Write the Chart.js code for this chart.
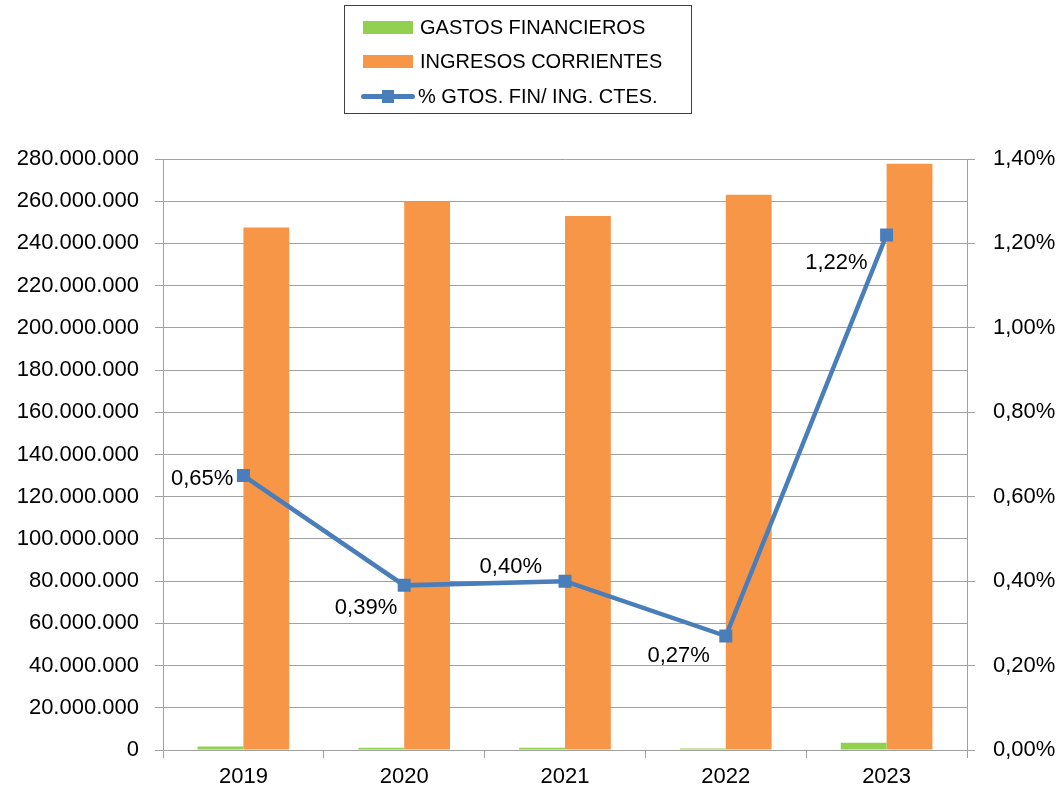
<!DOCTYPE html>
<html>
<head>
<meta charset="utf-8">
<script src="https://cdn.jsdelivr.net/npm/chart.js@4.4.1/dist/chart.umd.min.js"></script>
<style>
  html, body { margin: 0; padding: 0; background: #fff; }
  #wrap { position: relative; width: 1063px; height: 796px; }
  #legend {
    position: absolute; left: 344px; top: 5px; width: 348px; height: 109px;
    border: 1px solid #404040; box-sizing: border-box;
    font-family: "Liberation Sans", Arial, sans-serif; font-size: 20px; color: #000;
  }
  .item { position: absolute; left: 18px; height: 24px; display: flex; align-items: center; }
  .swatch { width: 50px; height: 13px; margin-right: 7px; }
  .linesw { position: relative; width: 54px; height: 13px; margin-right: 3px; }
  .linesw .ln { position: absolute; left: 0; right: 0; top: 4px; height: 5px; border-radius: 3px; }
  .linesw .mk { position: absolute; left: 21px; top: 0; width: 12px; height: 13px; }
</style>
</head>
<body>
<div id="wrap">
  <canvas id="chart" width="1063" height="796"></canvas>
  <div id="legend"></div>
</div>
<script>
// ── Data ──────────────────────────────────────────────────────────────────────
const years      = ["2019", "2020", "2021", "2022", "2023"];
const gastosFin  = [1610000, 1010000, 1010000, 710000, 3390000];
const ingresos   = [247600000, 259700000, 253000000, 263100000, 277800000];
const pctGastos  = [0.65, 0.39, 0.40, 0.27, 1.22];

const seriesNames = ["GASTOS FINANCIEROS", "INGRESOS CORRIENTES", "% GTOS. FIN/ ING. CTES."];

// ── Styles ────────────────────────────────────────────────────────────────────
const GREEN  = "#92d050";
const ORANGE = "#f79646";
const BLUE   = "#4a7ebb";
const GRID   = "#a0a0a0";
const FONT   = { family: "'Liberation Sans', Arial, sans-serif", size: 22 };

// label offsets for the % points: [dx of right edge, dy of middle]
const labelOffsets = [[-10, 3], [-7, 23], [-23, -14], [-16, 20], [-19, 28]];

function thousands(v) {
  return Math.round(v).toString().replace(/\B(?=(\d{3})+(?!\d))/g, ".");
}

function pctText(v) {
  return v.toFixed(2).replace(".", ",") + "%";
}

// draws the % values next to the line points
const pointLabels = {
  id: "pointLabels",
  afterDatasetsDraw(chart) {
    const meta = chart.getDatasetMeta(0);
    const ctx = chart.ctx;
    ctx.save();
    ctx.font = `${FONT.size}px ${FONT.family}`;
    ctx.fillStyle = "#000";
    ctx.textAlign = "right";
    ctx.textBaseline = "middle";
    meta.data.forEach((pt, i) => {
      const [dx, dy] = labelOffsets[i];
      ctx.fillText(pctText(pctGastos[i]), pt.x + dx, pt.y + dy);
    });
    ctx.restore();
  },
};

const chart = new Chart(document.getElementById("chart"), {
  data: {
    labels: years,
    datasets: [
      {
        type: "line",
        label: seriesNames[2],
        data: pctGastos,
        yAxisID: "y1",
        borderColor: BLUE,
        backgroundColor: BLUE,
        borderWidth: 4.5,
        pointStyle: "rect",
        pointRadius: 6,
        pointBorderColor: BLUE,
        pointBackgroundColor: BLUE,
        order: 0,
      },
      {
        type: "bar",
        label: seriesNames[0],
        data: gastosFin,
        yAxisID: "y",
        backgroundColor: GREEN,
        order: 1,
      },
      {
        type: "bar",
        label: seriesNames[1],
        data: ingresos,
        yAxisID: "y",
        backgroundColor: ORANGE,
        order: 1,
      },
    ],
  },
  options: {
    responsive: false,
    animation: false,
    devicePixelRatio: 1,
    layout: { padding: { top: 159, left: 0, right: 0, bottom: 0 } },
    datasets: { bar: { categoryPercentage: 0.57, barPercentage: 1 } },
    plugins: { legend: { display: false }, tooltip: { enabled: false } },
    scales: {
      x: {
        afterFit: (s) => { s.height = 46; },
        grid: { offset: true, drawOnChartArea: false, color: GRID, tickLength: 8 },
        border: { color: GRID },
        ticks: { color: "#000", font: FONT, padding: 6 },
      },
      y: {
        position: "left",
        min: 0,
        max: 280000000,
        afterFit: (s) => { s.width = 163; },
        grid: { color: GRID, tickLength: 8 },
        border: { color: GRID },
        ticks: { stepSize: 20000000, color: "#000", font: FONT, padding: 16, callback: (v) => thousands(v) },
      },
      y1: {
        position: "right",
        min: 0,
        max: 1.4,
        afterFit: (s) => { s.width = 96; },
        grid: { drawOnChartArea: false, color: GRID, tickLength: 8 },
        border: { color: GRID },
        ticks: { stepSize: 0.2, color: "#000", font: FONT, padding: 18, callback: (v) => pctText(v) },
      },
    },
  },
  plugins: [pointLabels],
});

// ── HTML legend built from the chart datasets ────────────────────────────────
const legend = document.getElementById("legend");
const legendOrder = [1, 2, 0];
legendOrder.forEach((dsIndex, row) => {
  const ds = chart.data.datasets[dsIndex];
  const item = document.createElement("div");
  item.className = "item";
  item.style.top = (9 + row * 34.5) + "px";
  if (ds.type === "line") {
    item.innerHTML = `<span class="linesw"><span class="ln" style="background:${ds.borderColor}"></span>` +
      `<span class="mk" style="background:${ds.borderColor}"></span></span>`;
    item.style.left = "16px";
  } else {
    item.innerHTML = `<span class="swatch" style="background:${ds.backgroundColor}"></span>`;
  }
  const txt = document.createElement("span");
  txt.textContent = ds.label;
  item.appendChild(txt);
  legend.appendChild(item);
});
</script>
</body>
</html>
